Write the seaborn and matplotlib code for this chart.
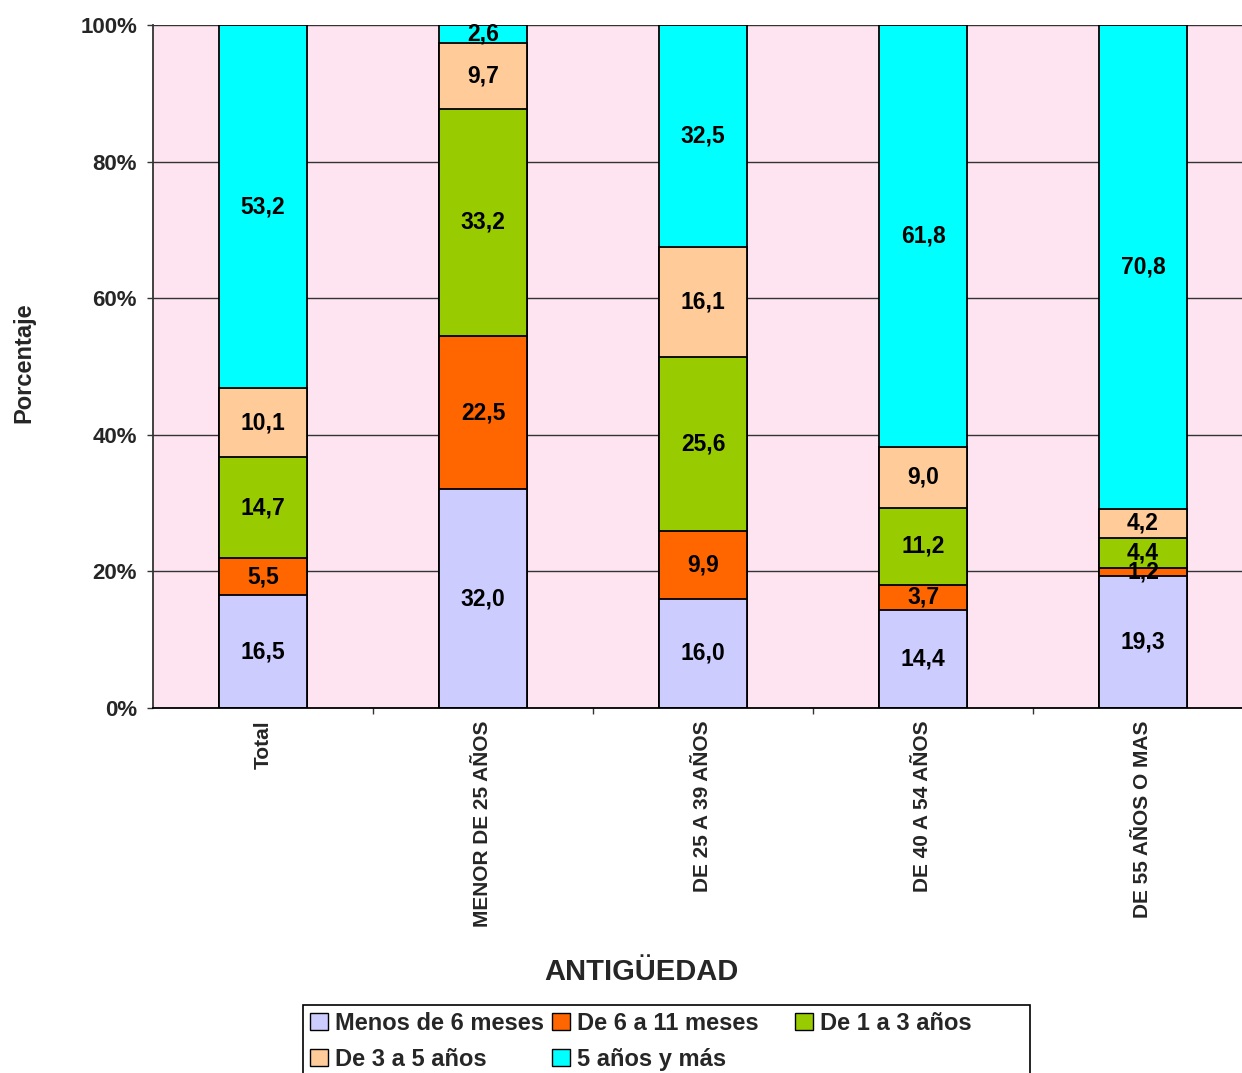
import matplotlib
matplotlib.use("Agg")
import matplotlib.pyplot as plt
from matplotlib.patches import Patch, Rectangle
from matplotlib.ticker import FuncFormatter, FixedLocator
import numpy as np
import pandas as pd
import seaborn as sns

categories = ["Total", "MENOR DE 25 AÑOS", "DE 25 A 39 AÑOS", "DE 40 A 54 AÑOS", "DE 55 AÑOS O MAS"]
series_names = ["Menos de 6 meses", "De 6 a 11 meses", "De 1 a 3 años", "De 3 a 5 años", "5 años y más"]
menos_6_meses = [16.5, 32.0, 16.0, 14.4, 19.3]
de_6_a_11_meses = [5.5, 22.5, 9.9, 3.7, 1.2]
de_1_a_3_anos = [14.7, 33.2, 25.6, 11.2, 4.4]
de_3_a_5_anos = [10.1, 9.7, 16.1, 9.0, 4.2]
cinco_anos_y_mas = [53.2, 2.6, 32.5, 61.8, 70.8]
colors = ["#CCCCFF", "#FF6600", "#99CC00", "#FFCC99", "#00FFFF"]

sns.set_theme(style="white")
plt.rcParams["font.family"] = ["Liberation Sans", "DejaVu Sans"]
plt.rcParams["font.weight"] = "bold"

W, H = 1242, 1073
series = [menos_6_meses, de_6_a_11_meses, de_1_a_3_anos, de_3_a_5_anos, cinco_anos_y_mas]
vals = np.array(series, dtype=float)
pct = vals / vals.sum(axis=0) * 100
cum = np.cumsum(pct, axis=0)

fig = plt.figure(figsize=(W / 100, H / 100), dpi=100)
ax = fig.add_axes([153 / W, 1 - 708 / H, 1 - 153 / W, (708 - 25) / H])
ax.set_facecolor("#FDE4F0")
for s in ["top", "right"]:
    ax.spines[s].set_visible(False)
ax.spines["left"].set_color("#333333")
ax.spines["bottom"].set_color("black")
ax.spines["left"].set_linewidth(1.3)
ax.spines["bottom"].set_linewidth(1.3)

ax.set_axisbelow(True)
ax.yaxis.grid(True, color="#333333", linewidth=1.0)

for i in reversed(range(len(series))):
    df = pd.DataFrame({"cat": categories, "v": cum[i]})
    sns.barplot(data=df, x="cat", y="v", order=categories, color=colors[i], saturation=1,
                width=0.397, edgecolor="black", linewidth=1.3, ax=ax, zorder=2)

for i in range(len(series)):
    for j in range(len(categories)):
        center = cum[i, j] - pct[i, j] / 2
        ax.text(j, center, f"{vals[i, j]:.1f}".replace(".", ","), ha="center", va="center",
                fontsize=16.5, fontweight="bold", color="black", zorder=5)

ax.set_xlim(-0.5, -0.5 + (W - 153) / 220)
ax.set_ylim(0, 100)
ax.set_yticks([0, 20, 40, 60, 80, 100])
ax.yaxis.set_major_formatter(FuncFormatter(lambda v, p: f"{int(v)}%"))
ax.tick_params(axis="y", left=True, length=4.5, width=1, color="#333333", labelsize=16, pad=7)
ax.tick_params(axis="x", which="major", length=0, labelsize=15, pad=9)
ax.xaxis.set_minor_locator(FixedLocator([0.5, 1.5, 2.5, 3.5]))
ax.tick_params(axis="x", which="minor", bottom=True, length=4, width=1, color="#333333")
for lab in ax.get_xticklabels():
    lab.set_rotation(90)
    lab.set_fontweight("bold")
for lab in ax.get_yticklabels():
    lab.set_fontweight("bold")

ax.set_xlabel("ANTIGÜEDAD", fontsize=21, fontweight="bold")
ax.xaxis.set_label_coords((641 - 153) / (W - 153), -(972 - 708) / (708 - 25))
ax.xaxis.label.set_va("center")
ax.set_ylabel("Porcentaje", fontsize=17, fontweight="bold")
ax.yaxis.set_label_coords(-(153 - 24) / (W - 153), 0.506)
ax.yaxis.label.set_va("center")

# Legend frame
fig.add_artist(Rectangle((303 / W, -0.05), (1030 - 303) / W, (H - 1005) / H + 0.05,
                         transform=fig.transFigure, facecolor="white", edgecolor="black",
                         linewidth=1.2, zorder=1))
handles = [Patch(facecolor=c, edgecolor="black", linewidth=1) for c in colors]
columns = [[0, 3], [1, 4], [2]]
col_x = [310, 552, 795]
for cx, items in zip(col_x, columns):
    leg = fig.legend([handles[k] for k in items], [series_names[k] for k in items],
                     loc="upper left", bbox_to_anchor=(cx / W, 1 - 1012 / H),
                     frameon=False, fontsize=17, handlelength=0.75, handleheight=0.75,
                     handletextpad=0.3, labelspacing=0.55, borderpad=0, borderaxespad=0)
    leg.set_zorder(3)
    for t in leg.get_texts():
        t.set_fontweight("bold")

fig.savefig("out.png", dpi=100)
